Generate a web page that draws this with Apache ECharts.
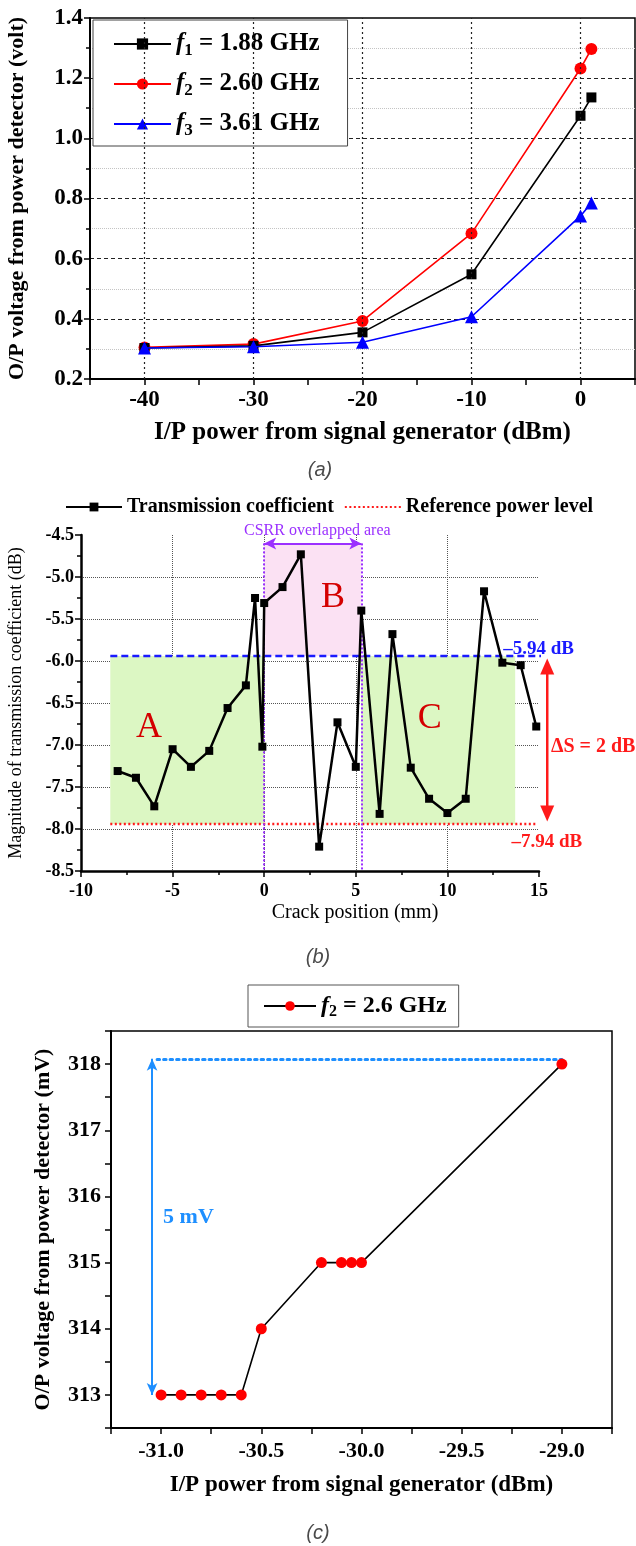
<!DOCTYPE html>
<html>
<head>
<meta charset="utf-8">
<script src="https://cdn.jsdelivr.net/npm/echarts@6/dist/echarts.min.js"></script>
<style>
  html, body { margin: 0; padding: 0; background: #fff; }
  #main { width: 636px; height: 1546px; }
</style>
</head>
<body>
<div id="main"></div>
<script>
// ---------- data ----------
// (a) detector output voltage vs generator power, three frequencies
const powerA = [-40, -30, -20, -10, 0, 1];
const voltF1 = [0.303, 0.310, 0.355, 0.548, 1.075, 1.136];
const voltF2 = [0.305, 0.316, 0.393, 0.684, 1.232, 1.297];
const voltF3 = [0.303, 0.307, 0.322, 0.407, 0.742, 0.785];
const gridLinesA = [-40, -30, -20, -10, 0];

// (b) transmission coefficient vs crack position
const crackPos = [-8, -7, -6, -5, -4, -3, -2, -1, -0.5, -0.1, 0, 1, 2, 3, 4, 5, 5.3, 6.3, 7, 8, 9, 10, 11, 12, 13, 14, 14.85];
const transCoef = [-7.31, -7.39, -7.73, -7.05, -7.26, -7.07, -6.56, -6.29, -5.25, -7.02, -5.31, -5.12, -4.73, -8.21, -6.73, -7.26, -5.40, -7.82, -5.68, -7.27, -7.64, -7.81, -7.64, -5.17, -6.02, -6.05, -6.78];
const upperLevel = -5.94;
const refLevel = -7.94;
const csrrStart = 0;
const csrrEnd = 5.3;

// (c) fine sweep at f2
const powerC = [-31.0, -30.9, -30.8, -30.7, -30.6, -30.5, -30.2, -30.1, -30.05, -30.0, -29.0];
const voltC = [313, 313, 313, 313, 313, 314, 315, 315, 315, 315, 318];

// ---------- helpers ----------
const SERIF = '"Liberation Serif", "Times New Roman", serif';
const SANS = '"Liberation Sans", Arial, sans-serif';
const pairs = (xs, ys) => xs.map((x, i) => [x, ys[i]]);

function lbl(size, bold, margin, formatter) {
  return { fontFamily: SERIF, fontSize: size, fontWeight: bold ? 'bold' : 'normal', color: '#000', margin: margin, formatter: formatter };
}
function axisLine(w) { return { show: true, onZero: false, lineStyle: { color: '#000', width: w } }; }
function ticks(len, w) { return { show: true, inside: false, length: len, lineStyle: { color: '#000', width: w } }; }

function richFor(size) {
  return {
    i: { fontFamily: SERIF, fontWeight: 'bold', fontStyle: 'italic', fontSize: size, lineHeight: size + 3, color: '#000' },
    s: { fontFamily: SERIF, fontWeight: 'bold', fontSize: Math.round(size * 0.68), lineHeight: size + 3, padding: [Math.round(size * 0.52), 0, 0, 0], color: '#000' },
    t: { fontFamily: SERIF, fontWeight: 'bold', fontSize: size, lineHeight: size + 3, color: '#000' }
  };
}
const freqFormatter = name => '{i|f}{s|' + name.charAt(1) + '}{t|' + name.slice(2) + '}';

const chart = echarts.init(document.getElementById('main'), null, { renderer: 'canvas', width: 636, height: 1546 });

const option = {
  animation: false,
  backgroundColor: '#fff',
  grid: [
    { left: 90, top: 18, width: 545, height: 361, show: true, borderColor: '#000', borderWidth: 1.5, backgroundColor: 'transparent', containLabel: false, outerBoundsMode: 'none' },
    { left: 81, top: 535, width: 458, height: 336, show: false, containLabel: false, outerBoundsMode: 'none' },
    { left: 111, top: 1031, width: 501, height: 397, show: true, borderColor: '#000', borderWidth: 1.5, backgroundColor: 'transparent', containLabel: false, outerBoundsMode: 'none' }
  ],
  xAxis: [
    {
      gridIndex: 0, type: 'value', min: -45, max: 5, interval: 5,
      axisLine: axisLine(2), axisTick: ticks(6, 1.5),
      axisLabel: lbl(23, true, 10, v => (v % 10 === 0 && v >= -40 && v <= 0) ? String(v) : ''),
      splitLine: { show: false },
      name: 'I/P power from signal generator (dBm)', nameLocation: 'middle', nameGap: 41,
      nameTextStyle: { fontFamily: SERIF, fontSize: 25, fontWeight: 'bold', color: '#000' }
    },
    {
      gridIndex: 1, type: 'value', min: -10, max: 15, interval: 5,
      axisLine: axisLine(2.5), axisTick: ticks(6, 1.5),
      minorTick: { show: true, splitNumber: 2, length: 4, lineStyle: { color: '#000', width: 1.5 } },
      axisLabel: lbl(18, true, 11, v => String(v)),
      splitLine: { show: true, showMinLine: false, showMaxLine: false, lineStyle: { color: '#555', type: 'dotted', width: 1 } },
      name: 'Crack position (mm)', nameLocation: 'middle', nameGap: 32,
      nameTextStyle: { fontFamily: SERIF, fontSize: 20, color: '#000', padding: [0, 0, 0, 90] }
    },
    {
      gridIndex: 2, type: 'value', min: -31.25, max: -28.75, interval: 0.25,
      axisLine: axisLine(2), axisTick: ticks(6, 1.5),
      axisLabel: lbl(22, true, 12, v => Math.abs(v * 2 - Math.round(v * 2)) < 1e-6 ? v.toFixed(1) : ''),
      splitLine: { show: false },
      name: 'I/P power from signal generator (dBm)', nameLocation: 'middle', nameGap: 46,
      nameTextStyle: { fontFamily: SERIF, fontSize: 23, fontWeight: 'bold', color: '#000' }
    }
  ],
  yAxis: [
    {
      gridIndex: 0, type: 'value', min: 0.2, max: 1.4, interval: 0.2,
      axisLine: axisLine(2), axisTick: ticks(6, 1.5),
      minorTick: { show: true, splitNumber: 2, length: 4, lineStyle: { color: '#000', width: 1.5 } },
      axisLabel: lbl(23, true, 7, v => v.toFixed(1)),
      splitLine: { show: true, showMinLine: false, showMaxLine: false, lineStyle: { color: '#222', type: [4, 3], width: 1 } },
      minorSplitLine: { show: true, lineStyle: { color: '#c4c4c4', type: 'dotted', width: 1 } },
      name: 'O/P voltage from power detector (volt)', nameLocation: 'middle', nameGap: 62,
      nameTextStyle: { fontFamily: SERIF, fontSize: 22, fontWeight: 'bold', color: '#000' }
    },
    {
      gridIndex: 1, type: 'value', min: -8.5, max: -4.5, interval: 0.5,
      axisLine: axisLine(2.5), axisTick: ticks(6, 1.5),
      minorTick: { show: true, splitNumber: 2, length: 4, lineStyle: { color: '#000', width: 1.5 } },
      axisLabel: lbl(18, true, 7, v => v.toFixed(1)),
      splitLine: { show: true, showMinLine: false, showMaxLine: false, lineStyle: { color: '#555', type: 'dotted', width: 1 } },
      name: 'Magnitude of transmission coefficient (dB)', nameLocation: 'middle', nameGap: 56,
      nameTextStyle: { fontFamily: SERIF, fontSize: 18, color: '#000' }
    },
    {
      gridIndex: 2, type: 'value', min: 312.5, max: 318.5, interval: 0.5,
      axisLine: axisLine(2), axisTick: ticks(6, 1.5),
      axisLabel: lbl(22, true, 10, v => Number.isInteger(v) ? String(v) : ''),
      splitLine: { show: false },
      name: 'O/P voltage from power detector (mV)', nameLocation: 'middle', nameGap: 57,
      nameTextStyle: { fontFamily: SERIF, fontSize: 22, fontWeight: 'bold', color: '#000' }
    }
  ],
  legend: [
    {
      data: ['f1 = 1.88 GHz', 'f2 = 2.60 GHz', 'f3 = 3.61 GHz'],
      orient: 'vertical', left: 93, top: 20, padding: [9, 28, 7, 20], itemGap: 10,
      itemWidth: 57, itemHeight: 14, selectedMode: false,
      borderColor: '#444', borderWidth: 1, backgroundColor: '#fff',
      formatter: freqFormatter, textStyle: { rich: richFor(25) }
    },
    {
      data: ['Transmission coefficient', { name: 'Reference power level', itemStyle: { opacity: 0 } }],
      orient: 'horizontal', left: 65, top: 497, padding: 0, itemGap: 10,
      itemWidth: 56, itemHeight: 11, selectedMode: false,
      textStyle: { fontFamily: SERIF, fontSize: 20, fontWeight: 'bold', color: '#000' }
    },
    {
      data: ['f2 = 2.6 GHz'],
      orient: 'horizontal', left: 248, top: 985, padding: [7, 12, 7, 15],
      itemWidth: 52, itemHeight: 12, selectedMode: false,
      borderColor: '#555', borderWidth: 1, backgroundColor: '#fff',
      formatter: freqFormatter, textStyle: { rich: richFor(24) }
    }
  ],
  series: [
    // (a) vertical grid lines at labelled power steps
    {
      type: 'line', xAxisIndex: 0, yAxisIndex: 0, data: [], silent: true, z: 1,
      markLine: {
        silent: true, symbol: ['none', 'none'], label: { show: false },
        lineStyle: { color: '#222', type: [2, 3], width: 1.2 },
        data: gridLinesA.map(v => ({ xAxis: v }))
      }
    },
    {
      name: 'f1 = 1.88 GHz', type: 'line', xAxisIndex: 0, yAxisIndex: 0, z: 4,
      data: pairs(powerA, voltF1), symbol: 'rect', symbolSize: 10,
      itemStyle: { color: '#000' }, lineStyle: { color: '#000', width: 1.6 }
    },
    {
      name: 'f2 = 2.60 GHz', type: 'line', xAxisIndex: 0, yAxisIndex: 0, z: 3,
      data: pairs(powerA, voltF2), symbol: 'circle', symbolSize: 12,
      itemStyle: { color: '#ff0000' }, lineStyle: { color: '#ff0000', width: 1.6 }
    },
    {
      name: 'f3 = 3.61 GHz', type: 'line', xAxisIndex: 0, yAxisIndex: 0, z: 5,
      data: pairs(powerA, voltF3), symbol: 'triangle', symbolSize: 13,
      itemStyle: { color: '#0000ff' }, lineStyle: { color: '#0000ff', width: 1.6 }
    },
    // (b) shaded regions A, B, C
    {
      type: 'line', xAxisIndex: 1, yAxisIndex: 1, data: [], silent: true, z: 1,
      markArea: {
        silent: true,
        data: [
          [{ coord: [-8.4, upperLevel], itemStyle: { color: '#dcf7c3' } }, { coord: [csrrStart, refLevel] }],
          [{ coord: [csrrEnd, upperLevel], itemStyle: { color: '#dcf7c3' } }, { coord: [13.7, refLevel] }],
          [{ coord: [csrrStart, -4.6], itemStyle: { color: '#fbe1f3' } }, { coord: [csrrEnd, upperLevel] }]
        ]
      }
    },
    {
      type: 'line', xAxisIndex: 1, yAxisIndex: 1, z: 3, clip: false, silent: true,
      data: [[-8.4, upperLevel], [15.2, upperLevel]], symbol: 'none',
      lineStyle: { color: '#1a1aff', type: [7, 4], width: 2.5 }
    },
    {
      name: 'Reference power level', type: 'line', xAxisIndex: 1, yAxisIndex: 1, z: 3, silent: true,
      data: [[-8.4, refLevel], [14.9, refLevel]], symbol: 'none',
      itemStyle: { color: '#ff1a1a' },
      lineStyle: { color: '#ff1a1a', type: [2, 2.5], width: 2.5 }
    },
    // (b) CSRR overlapped area bounds
    {
      type: 'line', xAxisIndex: 1, yAxisIndex: 1, data: [], silent: true, z: 2,
      markLine: {
        silent: true, symbol: ['none', 'none'], label: { show: false },
        lineStyle: { color: '#9b30ff', type: [2, 2], width: 2 },
        data: [
          [{ coord: [csrrStart, -4.6] }, { coord: [csrrStart, -8.5] }],
          [{ coord: [csrrEnd, -4.6] }, { coord: [csrrEnd, -8.5] }],
          [
            { coord: [csrrStart, -4.6], symbol: 'arrow', symbolSize: [9, 12], lineStyle: { type: 'solid', width: 2 } },
            { coord: [csrrEnd, -4.6], symbol: 'arrow', symbolSize: [9, 12], lineStyle: { type: 'solid', width: 2 } }
          ]
        ]
      }
    },
    {
      name: 'Transmission coefficient', type: 'line', xAxisIndex: 1, yAxisIndex: 1, z: 5,
      data: pairs(crackPos, transCoef), symbol: 'rect', symbolSize: 8,
      itemStyle: { color: '#000' }, lineStyle: { color: '#000', width: 2.5 }
    },
    // (c)
    {
      name: 'f2 = 2.6 GHz', type: 'line', xAxisIndex: 2, yAxisIndex: 2, z: 5,
      data: pairs(powerC, voltC), symbol: 'circle', symbolSize: 11,
      itemStyle: { color: '#ff0000' }, lineStyle: { color: '#000', width: 1.6 }
    },
    {
      type: 'line', xAxisIndex: 2, yAxisIndex: 2, data: [], silent: true, z: 3,
      markLine: {
        silent: true, symbol: ['none', 'none'], label: { show: false },
        data: [
          [
            { coord: [-31.02, 318.08], lineStyle: { color: '#1e8fff', type: [2.5, 4], width: 3, cap: 'round' } },
            { coord: [-29.0, 318.08] }
          ],
          [
            { coord: [-31.045, 318.08], symbol: 'arrow', symbolSize: [8, 12], lineStyle: { color: '#1e8fff', type: 'solid', width: 2 } },
            { coord: [-31.045, 313.0], symbol: 'arrow', symbolSize: [8, 12] }
          ]
        ]
      }
    }
  ]
};

chart.setOption(option);

// ---------- annotations placed through the axes ----------
const P = (g, x, y) => chart.convertToPixel({ gridIndex: g }, [x, y]);
function txt(g, x, y, text, font, fill, align) {
  const p = P(g, x, y);
  return { type: 'text', x: p[0], y: p[1], silent: true, z: 20,
    style: { text: text, font: font, fill: fill, align: align, textAlign: align, verticalAlign: 'middle', textVerticalAlign: 'middle' } };
}
function caption(x, y, text) {
  return { type: 'text', x: x, y: y, silent: true, z: 20,
    style: { text: text, font: 'italic 20px ' + SANS, fill: '#4a4a4a', align: 'center', textAlign: 'center', verticalAlign: 'middle', textVerticalAlign: 'middle' } };
}

const arrowTop = P(1, 15.45, -5.97);
const arrowBot = P(1, 15.45, -7.91);
const red = '#ff1a1a';

const graphics = [
  caption(320, 470, '(a)'),
  caption(318, 957, '(b)'),
  caption(318, 1533, '(c)'),
  txt(1, -6.29, -6.79, 'A', '36px ' + SERIF, '#d40000', 'center'),
  txt(1, 3.75, -5.25, 'B', '36px ' + SERIF, '#d40000', 'center'),
  txt(1, 9.04, -6.68, 'C', '36px ' + SERIF, '#d40000', 'center'),
  txt(1, 2.9, -4.455, 'CSRR overlapped area', '16px ' + SERIF, '#9b30ff', 'center'),
  txt(1, 13.05, -5.86, '\u20135.94 dB', 'bold 19px ' + SERIF, '#1a1aff', 'left'),
  txt(1, 13.5, -8.155, '\u20137.94 dB', 'bold 19px ' + SERIF, red, 'left'),
  txt(1, 15.65, -7.02, '\u0394S = 2 dB', 'bold 20px ' + SERIF, red, 'left'),
  { type: 'line', silent: true, z: 20,
    shape: { x1: arrowTop[0], y1: arrowTop[1] + 10, x2: arrowBot[0], y2: arrowBot[1] - 10 },
    style: { stroke: red, lineWidth: 2.5 } },
  { type: 'polygon', silent: true, z: 20,
    shape: { points: [[arrowTop[0], arrowTop[1]], [arrowTop[0] - 7, arrowTop[1] + 16], [arrowTop[0] + 7, arrowTop[1] + 16]] },
    style: { fill: red } },
  { type: 'polygon', silent: true, z: 20,
    shape: { points: [[arrowBot[0], arrowBot[1]], [arrowBot[0] - 7, arrowBot[1] - 16], [arrowBot[0] + 7, arrowBot[1] - 16]] },
    style: { fill: red } },
  txt(2, -30.99, 315.69, '5 mV', 'bold 22px ' + SERIF, '#1e8fff', 'left')
];

chart.setOption({ graphic: graphics });
</script>
</body>
</html>
